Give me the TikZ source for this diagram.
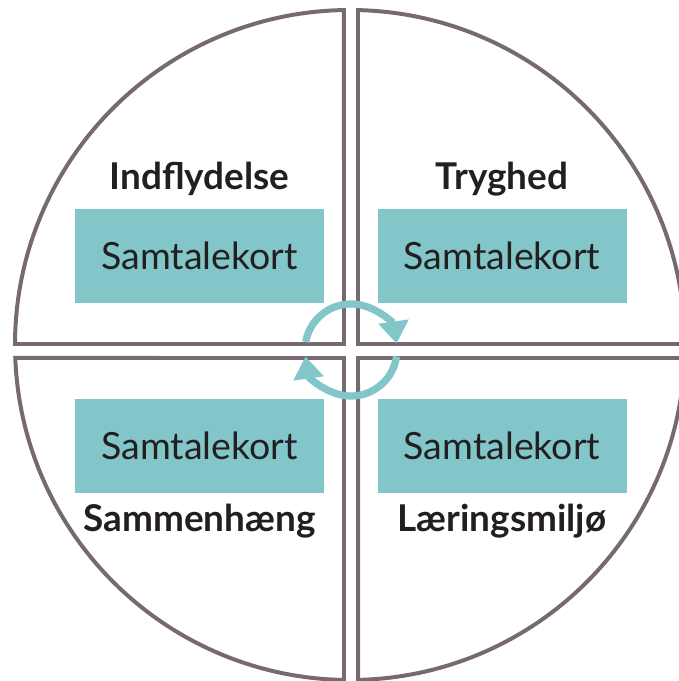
\documentclass[tikz,border=0pt]{standalone}
\usepackage{fontspec}
\setmainfont{Lato}
\usetikzlibrary{arrows.meta,positioning}
\definecolor{rim}{HTML}{766A70}
\definecolor{kort}{HTML}{82C6C9}
\definecolor{ink}{HTML}{231F20}
\tikzset{kvart/.style={draw=rim, line width=3.4pt, line join=miter},
  kortbox/.style={fill=kort, minimum width=7.47cm, minimum height=2.82cm, inner sep=0pt,
    text=ink, font=\fontsize{32}{38}\selectfont},
  tema/.style={text=ink, anchor=base, inner sep=0pt, font=\fontsize{31.5}{38}\selectfont\bfseries},
  pil/.style={draw=kort, line width=6.2pt, -{Triangle[width=25pt, length=19pt]}}}

\begin{document}
\begin{tikzpicture}[x=0.03cm, y=-0.03cm]
  \useasboundingbox (0,0) rectangle (678,681);
  % four quarters of the circle (centre 350/345, radius 335)
  \draw[kvart] (344,344) -- (15,344) arc[start angle=180.17, end angle=268.97, radius=335] -- cycle;
  \draw[kvart] (358,344) -- (358,10.1) arc[start angle=271.37, end angle=359.83, radius=335] -- cycle;
  \draw[kvart] (358,358) -- (684.75,358) arc[start angle=2.22, end angle=88.63, radius=335] -- cycle;
  \draw[kvart] (344,358) -- (344,679.95) arc[start angle=91.03, end angle=177.78, radius=335] -- cycle;
  % cards
  \node[kortbox] (kortUL) at (199.5,256) {Samtalekort};
  \node[kortbox] (kortUR) at (502,256) {Samtalekort};
  \node[kortbox] (kortLL) at (199.5,445.5) {Samtalekort};
  \node[kortbox] (kortLR) at (502,445.5) {Samtalekort};
  % themes
  \node[tema] (indfly) at (199.5,189) {Indflydelse};
  \node[tema] (tryg) at (502,189) {Tryghed};
  \node[tema] (sammen) at (199.5,531) {Sammenhæng};
  \node[tema] (laering) at (502,531) {Læringsmiljø};
  % cycle in the middle
  \coordinate (hub) at (351,350);
  \draw[pil] (hub) ++(190:46) arc[start angle=190, end angle=352, radius=46];
  \draw[pil] (hub) ++(8:46) arc[start angle=8, end angle=172, radius=46];
\end{tikzpicture}
\end{document}
